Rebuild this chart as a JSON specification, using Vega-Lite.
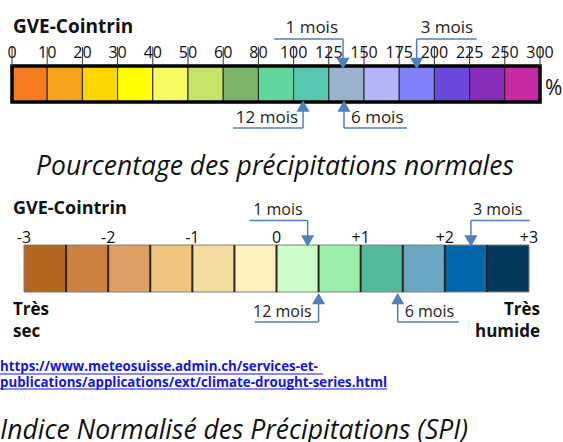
{
"$schema": "https://vega.github.io/schema/vega-lite/v6.json",
"width": 563, "height": 442, "padding": 0, "autosize": {"type": "none"},
"background": "white",
"config": {"view": {"stroke": null}, "text": {"font": "Open Sans", "color": "#111111"}},
"datasets": {
 "pct": [
  {"de": 0, "a": 10}, {"de": 10, "a": 20}, {"de": 20, "a": 30}, {"de": 30, "a": 40}, {"de": 40, "a": 50},
  {"de": 50, "a": 60}, {"de": 60, "a": 80}, {"de": 80, "a": 100}, {"de": 100, "a": 125}, {"de": 125, "a": 150},
  {"de": 150, "a": 175}, {"de": 175, "a": 200}, {"de": 200, "a": 225}, {"de": 225, "a": 250}, {"de": 250, "a": 300}
 ],
 "pctBornes": [
  {"valeur": 0}, {"valeur": 10}, {"valeur": 20}, {"valeur": 30}, {"valeur": 40}, {"valeur": 50}, {"valeur": 60}, {"valeur": 80},
  {"valeur": 100}, {"valeur": 125}, {"valeur": 150}, {"valeur": 175}, {"valeur": 200}, {"valeur": 225}, {"valeur": 250}, {"valeur": 300}
 ],
 "pctFleches": [
  {"periode": "1 mois", "valeur": 135.1}, {"periode": "3 mois", "valeur": 187.4},
  {"periode": "6 mois", "valeur": 135.8}, {"periode": "12 mois", "valeur": 106.7}
 ],
 "spi": [
  {"de": -3, "a": -2.5}, {"de": -2.5, "a": -2}, {"de": -2, "a": -1.5}, {"de": -1.5, "a": -1}, {"de": -1, "a": -0.5}, {"de": -0.5, "a": 0},
  {"de": 0, "a": 0.5}, {"de": 0.5, "a": 1}, {"de": 1, "a": 1.5}, {"de": 1.5, "a": 2}, {"de": 2, "a": 2.5}, {"de": 2.5, "a": 3}
 ],
 "spiBornes": [
  {"valeur": -3, "libelle": "-3"}, {"valeur": -2, "libelle": "-2"}, {"valeur": -1, "libelle": "-1"}, {"valeur": 0, "libelle": "0"},
  {"valeur": 1, "libelle": "+1"}, {"valeur": 2, "libelle": "+2"}, {"valeur": 3, "libelle": "+3"}
 ],
 "spiFleches": [
  {"periode": "1 mois", "valeur": 0.37}, {"periode": "3 mois", "valeur": 2.31},
  {"periode": "6 mois", "valeur": 1.44}, {"periode": "12 mois", "valeur": 0.5}
 ]
},
"layer": [
 {"layer": [
  {"data": {"name": "pct"}, "mark": {"type": "rect", "stroke": "#222222", "strokeWidth": 1},
   "encoding": {
    "x": {"field": "de", "type": "quantitative", "axis": null, "scale": {"domain": [0,10,20,30,40,50,60,80,100,125,150,175,200,225,250,300], "range": [12,47.2,82.4,117.6,152.8,188,223.2,258.4,293.6,328.8,364,399.2,434.4,469.6,504.8,540], "nice": false, "zero": false}},
    "x2": {"field": "a"},
    "y": {"datum": 0, "type": "quantitative", "axis": null, "scale": {"domain": [0, 1], "range": [102, 66], "nice": false, "zero": false}},
    "y2": {"datum": 1},
    "color": {"field": "de", "type": "ordinal", "legend": null, "scale": {"domain": [0,10,20,30,40,50,60,80,100,125,150,175,200,225,250], "range": ["#f47b20","#f9a21e","#fdd500","#ffff00","#f4fa5f","#c6e466","#7db56b","#5fd69b","#56c8b1","#9cb3d0","#b4b4fb","#8080f9","#6b47db","#8a2cbb","#c82aa6"]}}
   }},
  {"data": {"name": "pct"}, "mark": {"type": "rect", "fillOpacity": 0, "stroke": "#000000", "strokeWidth": 3.5},
   "encoding": {
    "x": {"aggregate": "min", "field": "de", "type": "quantitative", "axis": null, "scale": {"domain": [0,10,20,30,40,50,60,80,100,125,150,175,200,225,250,300], "range": [12,47.2,82.4,117.6,152.8,188,223.2,258.4,293.6,328.8,364,399.2,434.4,469.6,504.8,540], "nice": false, "zero": false}},
    "x2": {"aggregate": "max", "field": "a"},
    "y": {"datum": 0, "type": "quantitative", "axis": null, "scale": {"domain": [0, 1], "range": [102, 66], "nice": false, "zero": false}},
    "y2": {"datum": 1}
   }},
  {"data": {"name": "pctBornes"}, "layer": [
    {"mark": {"type": "rule", "stroke": "#333333", "strokeWidth": 1},
     "encoding": {
      "x": {"field": "valeur", "type": "quantitative", "axis": null, "scale": {"domain": [0,10,20,30,40,50,60,80,100,125,150,175,200,225,250,300], "range": [12,47.2,82.4,117.6,152.8,188,223.2,258.4,293.6,328.8,364,399.2,434.4,469.6,504.8,540], "nice": false, "zero": false}},
      "y": {"datum": 1, "type": "quantitative", "axis": null, "scale": {"domain": [0, 1], "range": [102, 66], "nice": false, "zero": false}},
      "y2": {"datum": 1.53}
     }},
    {"mark": {"type": "text", "align": "center", "baseline": "alphabetic", "fontSize": 16},
     "encoding": {
      "x": {"field": "valeur", "type": "quantitative", "axis": null, "scale": {"domain": [0,10,20,30,40,50,60,80,100,125,150,175,200,225,250,300], "range": [12,47.2,82.4,117.6,152.8,188,223.2,258.4,293.6,328.8,364,399.2,434.4,469.6,504.8,540], "nice": false, "zero": false}},
      "y": {"datum": 1.222, "type": "quantitative", "axis": null, "scale": {"domain": [0, 1], "range": [102, 66], "nice": false, "zero": false}},
      "text": {"field": "valeur", "type": "nominal"}
     }}
  ]},
  {"data": {"values": [{"texte": "GVE-Cointrin"}]}, "mark": {"type": "text", "align": "left", "baseline": "alphabetic", "fontSize": 19, "fontWeight": "bold"},
   "encoding": {
    "x": {"datum": 0.28, "type": "quantitative", "axis": null, "scale": {"domain": [0,10,20,30,40,50,60,80,100,125,150,175,200,225,250,300], "range": [12,47.2,82.4,117.6,152.8,188,223.2,258.4,293.6,328.8,364,399.2,434.4,469.6,504.8,540], "nice": false, "zero": false}},
    "y": {"datum": 1.917, "type": "quantitative", "axis": null, "scale": {"domain": [0, 1], "range": [102, 66], "nice": false, "zero": false}},
    "text": {"field": "texte"}
   }},
  {"data": {"values": [{"texte": "%"}]}, "mark": {"type": "text", "align": "left", "baseline": "alphabetic", "fontSize": 21},
   "encoding": {
    "x": {"datum": 307, "type": "quantitative", "axis": null, "scale": {"domain": [0,10,20,30,40,50,60,80,100,125,150,175,200,225,250,300], "range": [12,47.2,82.4,117.6,152.8,188,223.2,258.4,293.6,328.8,364,399.2,434.4,469.6,504.8,540], "nice": false, "zero": false}},
    "y": {"datum": 0.194, "type": "quantitative", "axis": null, "scale": {"domain": [0, 1], "range": [102, 66], "nice": false, "zero": false}},
    "text": {"field": "texte"}
   }},
  {"data": {"values": [{"texte": "Pourcentage des précipitations normales"}]}, "mark": {"type": "text", "align": "center", "baseline": "alphabetic", "fontSize": 26.5, "fontStyle": "italic"},
   "encoding": {
    "x": {"datum": 89.43, "type": "quantitative", "axis": null, "scale": {"domain": [0,10,20,30,40,50,60,80,100,125,150,175,200,225,250,300], "range": [12,47.2,82.4,117.6,152.8,188,223.2,258.4,293.6,328.8,364,399.2,434.4,469.6,504.8,540], "nice": false, "zero": false}},
    "y": {"datum": -2.028, "type": "quantitative", "axis": null, "scale": {"domain": [0, 1], "range": [102, 66], "nice": false, "zero": false}},
    "text": {"field": "texte"}
   }},
  {"data": {"name": "pctFleches"}, "transform": [{"filter": "datum.periode == '1 mois'"}],
   "encoding": {
    "x": {"field": "valeur", "type": "quantitative", "axis": null, "scale": {"domain": [0,10,20,30,40,50,60,80,100,125,150,175,200,225,250,300], "range": [12,47.2,82.4,117.6,152.8,188,223.2,258.4,293.6,328.8,364,399.2,434.4,469.6,504.8,540], "nice": false, "zero": false}}
   },
   "layer": [
    {"mark": {"type": "rule", "stroke": "#4f81bd", "strokeWidth": 1.5}, "encoding": {"y": {"datum": 1.75, "type": "quantitative", "axis": null, "scale": {"domain": [0, 1], "range": [102, 66], "nice": false, "zero": false}}, "y2": {"datum": 1.069}}},
    {"mark": {"type": "rule", "stroke": "#4f81bd", "strokeWidth": 1.5, "x2Offset": -69}, "encoding": {"x2": {"field": "valeur"}, "y": {"datum": 1.75, "type": "quantitative", "axis": null, "scale": {"domain": [0, 1], "range": [102, 66], "nice": false, "zero": false}}}},
    {"mark": {"type": "point", "shape": "triangle-down", "filled": true, "size": 170, "color": "#4f81bd", "opacity": 1}, "encoding": {"y": {"datum": 1.069, "type": "quantitative", "axis": null, "scale": {"domain": [0, 1], "range": [102, 66], "nice": false, "zero": false}}}},
    {"mark": {"type": "text", "align": "right", "baseline": "alphabetic", "dx": -5, "fontSize": 17, "color": "#222222"}, "encoding": {"y": {"datum": 1.917, "type": "quantitative", "axis": null, "scale": {"domain": [0, 1], "range": [102, 66], "nice": false, "zero": false}}, "text": {"field": "periode"}}}
   ]},
  {"data": {"name": "pctFleches"}, "transform": [{"filter": "datum.periode == '3 mois'"}],
   "encoding": {
    "x": {"field": "valeur", "type": "quantitative", "axis": null, "scale": {"domain": [0,10,20,30,40,50,60,80,100,125,150,175,200,225,250,300], "range": [12,47.2,82.4,117.6,152.8,188,223.2,258.4,293.6,328.8,364,399.2,434.4,469.6,504.8,540], "nice": false, "zero": false}}
   },
   "layer": [
    {"mark": {"type": "rule", "stroke": "#4f81bd", "strokeWidth": 1.5}, "encoding": {"y": {"datum": 1.75, "type": "quantitative", "axis": null, "scale": {"domain": [0, 1], "range": [102, 66], "nice": false, "zero": false}}, "y2": {"datum": 1.069}}},
    {"mark": {"type": "rule", "stroke": "#4f81bd", "strokeWidth": 1.5, "x2Offset": 60}, "encoding": {"x2": {"field": "valeur"}, "y": {"datum": 1.75, "type": "quantitative", "axis": null, "scale": {"domain": [0, 1], "range": [102, 66], "nice": false, "zero": false}}}},
    {"mark": {"type": "point", "shape": "triangle-down", "filled": true, "size": 170, "color": "#4f81bd", "opacity": 1}, "encoding": {"y": {"datum": 1.069, "type": "quantitative", "axis": null, "scale": {"domain": [0, 1], "range": [102, 66], "nice": false, "zero": false}}}},
    {"mark": {"type": "text", "align": "left", "baseline": "alphabetic", "dx": 4, "fontSize": 17, "color": "#222222"}, "encoding": {"y": {"datum": 1.917, "type": "quantitative", "axis": null, "scale": {"domain": [0, 1], "range": [102, 66], "nice": false, "zero": false}}, "text": {"field": "periode"}}}
   ]},
  {"data": {"name": "pctFleches"}, "transform": [{"filter": "datum.periode == '12 mois'"}],
   "encoding": {
    "x": {"field": "valeur", "type": "quantitative", "axis": null, "scale": {"domain": [0,10,20,30,40,50,60,80,100,125,150,175,200,225,250,300], "range": [12,47.2,82.4,117.6,152.8,188,223.2,258.4,293.6,328.8,364,399.2,434.4,469.6,504.8,540], "nice": false, "zero": false}}
   },
   "layer": [
    {"mark": {"type": "rule", "stroke": "#4f81bd", "strokeWidth": 1.5}, "encoding": {"y": {"datum": -0.111, "type": "quantitative", "axis": null, "scale": {"domain": [0, 1], "range": [102, 66], "nice": false, "zero": false}}, "y2": {"datum": -0.722}}},
    {"mark": {"type": "rule", "stroke": "#4f81bd", "strokeWidth": 1.5, "x2Offset": -70}, "encoding": {"x2": {"field": "valeur"}, "y": {"datum": -0.722, "type": "quantitative", "axis": null, "scale": {"domain": [0, 1], "range": [102, 66], "nice": false, "zero": false}}}},
    {"mark": {"type": "point", "shape": "triangle-up", "filled": true, "size": 170, "color": "#4f81bd", "opacity": 1}, "encoding": {"y": {"datum": -0.111, "type": "quantitative", "axis": null, "scale": {"domain": [0, 1], "range": [102, 66], "nice": false, "zero": false}}}},
    {"mark": {"type": "text", "align": "right", "baseline": "alphabetic", "dx": -5, "fontSize": 17, "color": "#222222"}, "encoding": {"y": {"datum": -0.583, "type": "quantitative", "axis": null, "scale": {"domain": [0, 1], "range": [102, 66], "nice": false, "zero": false}}, "text": {"field": "periode"}}}
   ]},
  {"data": {"name": "pctFleches"}, "transform": [{"filter": "datum.periode == '6 mois'"}],
   "encoding": {
    "x": {"field": "valeur", "type": "quantitative", "axis": null, "scale": {"domain": [0,10,20,30,40,50,60,80,100,125,150,175,200,225,250,300], "range": [12,47.2,82.4,117.6,152.8,188,223.2,258.4,293.6,328.8,364,399.2,434.4,469.6,504.8,540], "nice": false, "zero": false}}
   },
   "layer": [
    {"mark": {"type": "rule", "stroke": "#4f81bd", "strokeWidth": 1.5}, "encoding": {"y": {"datum": -0.111, "type": "quantitative", "axis": null, "scale": {"domain": [0, 1], "range": [102, 66], "nice": false, "zero": false}}, "y2": {"datum": -0.722}}},
    {"mark": {"type": "rule", "stroke": "#4f81bd", "strokeWidth": 1.5, "x2Offset": 63}, "encoding": {"x2": {"field": "valeur"}, "y": {"datum": -0.722, "type": "quantitative", "axis": null, "scale": {"domain": [0, 1], "range": [102, 66], "nice": false, "zero": false}}}},
    {"mark": {"type": "point", "shape": "triangle-up", "filled": true, "size": 170, "color": "#4f81bd", "opacity": 1}, "encoding": {"y": {"datum": -0.111, "type": "quantitative", "axis": null, "scale": {"domain": [0, 1], "range": [102, 66], "nice": false, "zero": false}}}},
    {"mark": {"type": "text", "align": "left", "baseline": "alphabetic", "dx": 7, "fontSize": 17, "color": "#222222"}, "encoding": {"y": {"datum": -0.583, "type": "quantitative", "axis": null, "scale": {"domain": [0, 1], "range": [102, 66], "nice": false, "zero": false}}, "text": {"field": "periode"}}}
   ]}
 ]},
 {"layer": [
  {"data": {"name": "spi"}, "mark": {"type": "rect", "strokeWidth": 0},
   "encoding": {
    "x": {"field": "de", "type": "quantitative", "axis": null, "scale": {"domain": [-3, 3], "range": [24, 529], "nice": false, "zero": false}},
    "x2": {"field": "a"},
    "y": {"datum": 0, "type": "quantitative", "axis": null, "scale": {"domain": [0, 1], "range": [292, 245], "nice": false, "zero": false}},
    "y2": {"datum": 1},
    "color": {"field": "de", "type": "ordinal", "legend": null, "scale": {"domain": [-3,-2.5,-2,-1.5,-1,-0.5,0,0.5,1,1.5,2,2.5], "range": ["#b4651f","#cd8141","#dda062","#efc47c","#f2dca0","#fff0bf","#cbfcc9","#99eeab","#53b99b","#6aa6c4","#0068aa","#03395a"]}}
   }},
  {"data": {"name": "spi"}, "mark": {"type": "rect", "fillOpacity": 0, "stroke": "#808080", "strokeWidth": 1},
   "encoding": {
    "x": {"aggregate": "min", "field": "de", "type": "quantitative", "axis": null, "scale": {"domain": [-3, 3], "range": [24, 529], "nice": false, "zero": false}},
    "x2": {"aggregate": "max", "field": "a"},
    "y": {"datum": 0, "type": "quantitative", "axis": null, "scale": {"domain": [0, 1], "range": [292, 245], "nice": false, "zero": false}},
    "y2": {"datum": 1}
   }},
  {"data": {"name": "spi"}, "transform": [{"filter": "datum.de > -3"}], "mark": {"type": "rule", "stroke": "#2e2418", "strokeWidth": 2},
   "encoding": {
    "x": {"field": "de", "type": "quantitative", "axis": null, "scale": {"domain": [-3, 3], "range": [24, 529], "nice": false, "zero": false}},
    "y": {"datum": 0, "type": "quantitative", "axis": null, "scale": {"domain": [0, 1], "range": [292, 245], "nice": false, "zero": false}},
    "y2": {"datum": 1}
   }},
  {"data": {"name": "spiBornes"}, "mark": {"type": "text", "align": "center", "baseline": "alphabetic", "fontSize": 16},
   "encoding": {
    "x": {"field": "valeur", "type": "quantitative", "axis": null, "scale": {"domain": [-3, 3], "range": [24, 529], "nice": false, "zero": false}},
    "y": {"datum": 1.043, "type": "quantitative", "axis": null, "scale": {"domain": [0, 1], "range": [292, 245], "nice": false, "zero": false}},
    "text": {"field": "libelle"}
   }},
  {"data": {"values": [{"texte": "GVE-Cointrin"}]}, "mark": {"type": "text", "align": "left", "baseline": "alphabetic", "fontSize": 18, "fontWeight": "bold"},
   "encoding": {
    "x": {"datum": -3.131, "type": "quantitative", "axis": null, "scale": {"domain": [-3, 3], "range": [24, 529], "nice": false, "zero": false}},
    "y": {"datum": 1.66, "type": "quantitative", "axis": null, "scale": {"domain": [0, 1], "range": [292, 245], "nice": false, "zero": false}},
    "text": {"field": "texte"}
   }},
  {"data": {"values": [{"texte": "Très\nsec"}]}, "mark": {"type": "text", "align": "left", "baseline": "alphabetic", "fontSize": 17, "fontWeight": "bold", "lineBreak": "\n", "lineHeight": 22},
   "encoding": {
    "x": {"datum": -3.131, "type": "quantitative", "axis": null, "scale": {"domain": [-3, 3], "range": [24, 529], "nice": false, "zero": false}},
    "y": {"datum": -0.489, "type": "quantitative", "axis": null, "scale": {"domain": [0, 1], "range": [292, 245], "nice": false, "zero": false}},
    "text": {"field": "texte"}
   }},
  {"data": {"values": [{"texte": "Très\nhumide"}]}, "mark": {"type": "text", "align": "right", "baseline": "alphabetic", "fontSize": 17, "fontWeight": "bold", "lineBreak": "\n", "lineHeight": 22},
   "encoding": {
    "x": {"datum": 3.131, "type": "quantitative", "axis": null, "scale": {"domain": [-3, 3], "range": [24, 529], "nice": false, "zero": false}},
    "y": {"datum": -0.489, "type": "quantitative", "axis": null, "scale": {"domain": [0, 1], "range": [292, 245], "nice": false, "zero": false}},
    "text": {"field": "texte"}
   }},
  {"data": {"values": [{"texte": "https://www.meteosuisse.admin.ch/services-et-"}]}, "layer": [
    {"mark": {"type": "text", "align": "left", "baseline": "alphabetic", "fontSize": 13.3, "fontWeight": "bold", "color": "#1414e6"},
     "encoding": {
      "x": {"datum": -3.285, "type": "quantitative", "axis": null, "scale": {"domain": [-3, 3], "range": [24, 529], "nice": false, "zero": false}},
      "y": {"datum": -1.691, "type": "quantitative", "axis": null, "scale": {"domain": [0, 1], "range": [292, 245], "nice": false, "zero": false}},
      "text": {"field": "texte"}
     }},
    {"mark": {"type": "rule", "stroke": "#1414e6", "strokeWidth": 1},
     "encoding": {
      "x": {"datum": -3.285, "type": "quantitative", "axis": null, "scale": {"domain": [-3, 3], "range": [24, 529], "nice": false, "zero": false}},
      "x2": {"datum": 0.552},
      "y": {"datum": -1.745, "type": "quantitative", "axis": null, "scale": {"domain": [0, 1], "range": [292, 245], "nice": false, "zero": false}}
     }}
  ]},
  {"data": {"values": [{"texte": "publications/applications/ext/climate-drought-series.html"}]}, "layer": [
    {"mark": {"type": "text", "align": "left", "baseline": "alphabetic", "fontSize": 13.3, "fontWeight": "bold", "color": "#1414e6"},
     "encoding": {
      "x": {"datum": -3.285, "type": "quantitative", "axis": null, "scale": {"domain": [-3, 3], "range": [24, 529], "nice": false, "zero": false}},
      "y": {"datum": -2.011, "type": "quantitative", "axis": null, "scale": {"domain": [0, 1], "range": [292, 245], "nice": false, "zero": false}},
      "text": {"field": "texte"}
     }},
    {"mark": {"type": "rule", "stroke": "#1414e6", "strokeWidth": 1},
     "encoding": {
      "x": {"datum": -3.285, "type": "quantitative", "axis": null, "scale": {"domain": [-3, 3], "range": [24, 529], "nice": false, "zero": false}},
      "x2": {"datum": 1.313},
      "y": {"datum": -2.064, "type": "quantitative", "axis": null, "scale": {"domain": [0, 1], "range": [292, 245], "nice": false, "zero": false}}
     }}
  ]},
  {"data": {"values": [{"texte": "Indice Normalisé des Précipitations (SPI)"}]}, "mark": {"type": "text", "align": "left", "baseline": "alphabetic", "fontSize": 26.5, "fontStyle": "italic"},
   "encoding": {
    "x": {"datum": -3.285, "type": "quantitative", "axis": null, "scale": {"domain": [-3, 3], "range": [24, 529], "nice": false, "zero": false}},
    "y": {"datum": -3.128, "type": "quantitative", "axis": null, "scale": {"domain": [0, 1], "range": [292, 245], "nice": false, "zero": false}},
    "text": {"field": "texte"}
   }},
  {"data": {"name": "spiFleches"}, "transform": [{"filter": "datum.periode == '1 mois'"}],
   "encoding": {"x": {"field": "valeur", "type": "quantitative", "axis": null, "scale": {"domain": [-3, 3], "range": [24, 529], "nice": false, "zero": false}}},
   "layer": [
    {"mark": {"type": "rule", "stroke": "#4f81bd", "strokeWidth": 1.5}, "encoding": {"y": {"datum": 1.521, "type": "quantitative", "axis": null, "scale": {"domain": [0, 1], "range": [292, 245], "nice": false, "zero": false}}, "y2": {"datum": 1.085}}},
    {"mark": {"type": "rule", "stroke": "#4f81bd", "strokeWidth": 1.5, "x2Offset": -58}, "encoding": {"x2": {"field": "valeur"}, "y": {"datum": 1.521, "type": "quantitative", "axis": null, "scale": {"domain": [0, 1], "range": [292, 245], "nice": false, "zero": false}}}},
    {"mark": {"type": "point", "shape": "triangle-down", "filled": true, "size": 170, "color": "#4f81bd", "opacity": 1}, "encoding": {"y": {"datum": 1.085, "type": "quantitative", "axis": null, "scale": {"domain": [0, 1], "range": [292, 245], "nice": false, "zero": false}}}},
    {"mark": {"type": "text", "align": "right", "baseline": "alphabetic", "dx": -5, "fontSize": 16, "color": "#222222"}, "encoding": {"y": {"datum": 1.638, "type": "quantitative", "axis": null, "scale": {"domain": [0, 1], "range": [292, 245], "nice": false, "zero": false}}, "text": {"field": "periode"}}}
   ]},
  {"data": {"name": "spiFleches"}, "transform": [{"filter": "datum.periode == '3 mois'"}],
   "encoding": {"x": {"field": "valeur", "type": "quantitative", "axis": null, "scale": {"domain": [-3, 3], "range": [24, 529], "nice": false, "zero": false}}},
   "layer": [
    {"mark": {"type": "rule", "stroke": "#4f81bd", "strokeWidth": 1.5}, "encoding": {"y": {"datum": 1.521, "type": "quantitative", "axis": null, "scale": {"domain": [0, 1], "range": [292, 245], "nice": false, "zero": false}}, "y2": {"datum": 1.085}}},
    {"mark": {"type": "rule", "stroke": "#4f81bd", "strokeWidth": 1.5, "x2Offset": 59}, "encoding": {"x2": {"field": "valeur"}, "y": {"datum": 1.521, "type": "quantitative", "axis": null, "scale": {"domain": [0, 1], "range": [292, 245], "nice": false, "zero": false}}}},
    {"mark": {"type": "point", "shape": "triangle-down", "filled": true, "size": 170, "color": "#4f81bd", "opacity": 1}, "encoding": {"y": {"datum": 1.085, "type": "quantitative", "axis": null, "scale": {"domain": [0, 1], "range": [292, 245], "nice": false, "zero": false}}}},
    {"mark": {"type": "text", "align": "left", "baseline": "alphabetic", "dx": 2, "fontSize": 16, "color": "#222222"}, "encoding": {"y": {"datum": 1.638, "type": "quantitative", "axis": null, "scale": {"domain": [0, 1], "range": [292, 245], "nice": false, "zero": false}}, "text": {"field": "periode"}}}
   ]},
  {"data": {"name": "spiFleches"}, "transform": [{"filter": "datum.periode == '12 mois'"}],
   "encoding": {"x": {"field": "valeur", "type": "quantitative", "axis": null, "scale": {"domain": [-3, 3], "range": [24, 529], "nice": false, "zero": false}}},
   "layer": [
    {"mark": {"type": "rule", "stroke": "#4f81bd", "strokeWidth": 1.5}, "encoding": {"y": {"datum": -0.14, "type": "quantitative", "axis": null, "scale": {"domain": [0, 1], "range": [292, 245], "nice": false, "zero": false}}, "y2": {"datum": -0.638}}},
    {"mark": {"type": "rule", "stroke": "#4f81bd", "strokeWidth": 1.5, "x2Offset": -64}, "encoding": {"x2": {"field": "valeur"}, "y": {"datum": -0.638, "type": "quantitative", "axis": null, "scale": {"domain": [0, 1], "range": [292, 245], "nice": false, "zero": false}}}},
    {"mark": {"type": "point", "shape": "triangle-up", "filled": true, "size": 170, "color": "#4f81bd", "opacity": 1}, "encoding": {"y": {"datum": -0.14, "type": "quantitative", "axis": null, "scale": {"domain": [0, 1], "range": [292, 245], "nice": false, "zero": false}}}},
    {"mark": {"type": "text", "align": "right", "baseline": "alphabetic", "dx": -7, "fontSize": 16, "color": "#222222"}, "encoding": {"y": {"datum": -0.532, "type": "quantitative", "axis": null, "scale": {"domain": [0, 1], "range": [292, 245], "nice": false, "zero": false}}, "text": {"field": "periode"}}}
   ]},
  {"data": {"name": "spiFleches"}, "transform": [{"filter": "datum.periode == '6 mois'"}],
   "encoding": {"x": {"field": "valeur", "type": "quantitative", "axis": null, "scale": {"domain": [-3, 3], "range": [24, 529], "nice": false, "zero": false}}},
   "layer": [
    {"mark": {"type": "rule", "stroke": "#4f81bd", "strokeWidth": 1.5}, "encoding": {"y": {"datum": -0.14, "type": "quantitative", "axis": null, "scale": {"domain": [0, 1], "range": [292, 245], "nice": false, "zero": false}}, "y2": {"datum": -0.638}}},
    {"mark": {"type": "rule", "stroke": "#4f81bd", "strokeWidth": 1.5, "x2Offset": 61}, "encoding": {"x2": {"field": "valeur"}, "y": {"datum": -0.638, "type": "quantitative", "axis": null, "scale": {"domain": [0, 1], "range": [292, 245], "nice": false, "zero": false}}}},
    {"mark": {"type": "point", "shape": "triangle-up", "filled": true, "size": 170, "color": "#4f81bd", "opacity": 1}, "encoding": {"y": {"datum": -0.14, "type": "quantitative", "axis": null, "scale": {"domain": [0, 1], "range": [292, 245], "nice": false, "zero": false}}}},
    {"mark": {"type": "text", "align": "left", "baseline": "alphabetic", "dx": 7, "fontSize": 16, "color": "#222222"}, "encoding": {"y": {"datum": -0.532, "type": "quantitative", "axis": null, "scale": {"domain": [0, 1], "range": [292, 245], "nice": false, "zero": false}}, "text": {"field": "periode"}}}
   ]}
 ]}
],
"resolve": {"scale": {"x": "independent", "y": "independent", "color": "independent"}}
}
